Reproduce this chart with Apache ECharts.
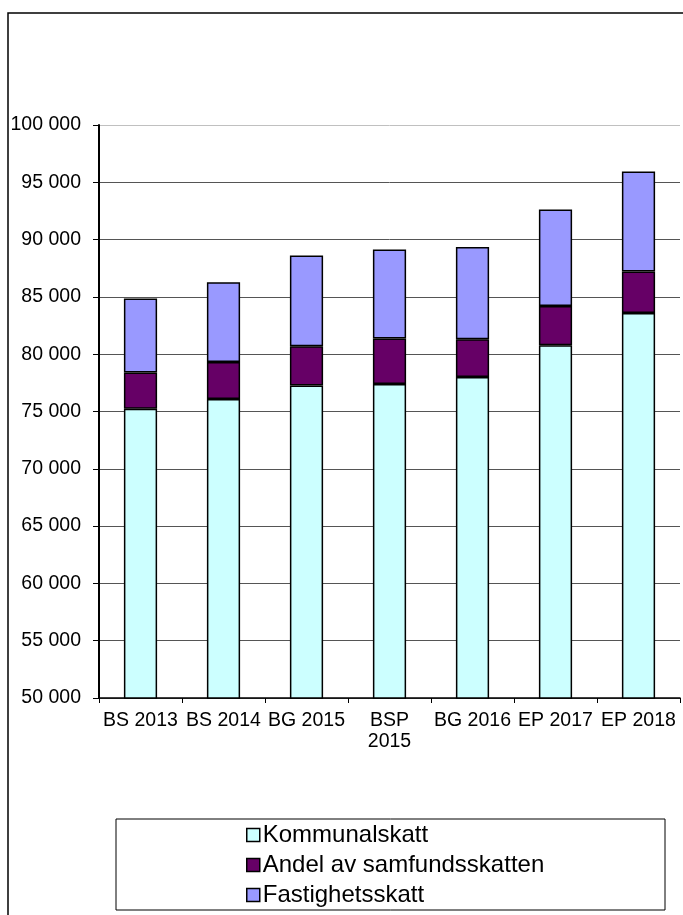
<!DOCTYPE html>
<html>
<head>
<meta charset="utf-8">
<script src="https://cdn.jsdelivr.net/npm/echarts@6/dist/echarts.min.js"></script>
<style>
  html, body { margin: 0; padding: 0; background: #fff; }
  #chart { width: 683px; height: 915px; }
</style>
</head>
<body>
<div id="chart"></div>
<script>
const categories = ['BS 2013', 'BS 2014', 'BG 2015', 'BSP\n2015', 'BG 2016', 'EP 2017', 'EP 2018']
const kommunalskatt = [75230, 76100, 77270, 77410, 78000, 80790, 83600]
const samfundsskatt = [3175, 3230, 3430, 3960, 3310, 3420, 3610]
const fastighetsskatt = [6455, 6950, 7910, 7760, 8050, 8410, 8725]
const seriesNames = ['Kommunalskatt', 'Andel av samfundsskatten', 'Fastighetsskatt']
const seriesColors = ['#CCFFFF', '#660066', '#9999FF']

const font = '"Liberation Sans", Arial, sans-serif'

var chartDom = document.getElementById('chart');
var myChart = echarts.init(chartDom, null, {renderer: 'canvas'});

const makeSeries = (name, data, color) => ({
  name: name,
  type: 'bar',
  stack: 'total',
  barWidth: '40%',
  data: data,
  itemStyle: {
    color: color,
    borderColor: '#000',
    borderWidth: 1.5
  }
})

var option = {
  backgroundColor: '#fff',
  animation: false,
  graphic: [
    {
      type: 'rect',
      shape: {x: 8, y: 13, width: 700, height: 920},
      style: {fill: 'none', stroke: '#000', lineWidth: 1.5},
      z: 0
    },
    {
      type: 'rect',
      shape: {x: 116, y: 819, width: 549, height: 91},
      style: {fill: '#fff', stroke: '#000', lineWidth: 1},
      z: 1
    }
  ],
  grid: {
    left: 99,
    right: 3,
    top: 125,
    bottom: 217
  },
  legend: {
    data: seriesNames,
    orient: 'vertical',
    left: 246,
    top: 823,
    padding: 0,
    icon: 'rect',
    itemWidth: 13,
    itemHeight: 13,
    itemGap: 6,
    z: 5,
    textStyle: {fontFamily: font, fontSize: 24, lineHeight: 24, color: '#000', padding: [0, 0, 0, -2]},
    itemStyle: {borderColor: '#000', borderWidth: 1.5}
  },
  xAxis: {
    type: 'category',
    data: categories,
    axisLine: {lineStyle: {color: '#000', width: 1.5}},
    axisTick: {show: true, length: 5, lineStyle: {color: '#000'}},
    axisLabel: {
      interval: 0,
      margin: 12,
      color: '#000',
      fontFamily: font,
      fontSize: 19.5,
      lineHeight: 21
    }
  },
  yAxis: {
    type: 'value',
    min: 50000,
    max: 100000,
    interval: 5000,
    axisLine: {show: true, lineStyle: {color: '#000', width: 2}},
    axisTick: {show: true, length: 6, lineStyle: {color: '#000'}},
    axisLabel: {
      margin: 18,
      color: '#000',
      fontFamily: font,
      fontSize: 19.5,
      formatter: (v) => String(v).replace(/\B(?=(\d{3})+(?!\d))/g, ' ')
    },
    splitLine: {
      lineStyle: {
        color: ['#555', '#555', '#555', '#555', '#555', '#555', '#555', '#555', '#555', '#555', '#c0c0c0'],
        width: 1
      }
    }
  },
  series: [
    makeSeries(seriesNames[0], kommunalskatt, seriesColors[0]),
    makeSeries(seriesNames[1], samfundsskatt, seriesColors[1]),
    makeSeries(seriesNames[2], fastighetsskatt, seriesColors[2])
  ]
};

option && myChart.setOption(option);
</script>
</body>
</html>
